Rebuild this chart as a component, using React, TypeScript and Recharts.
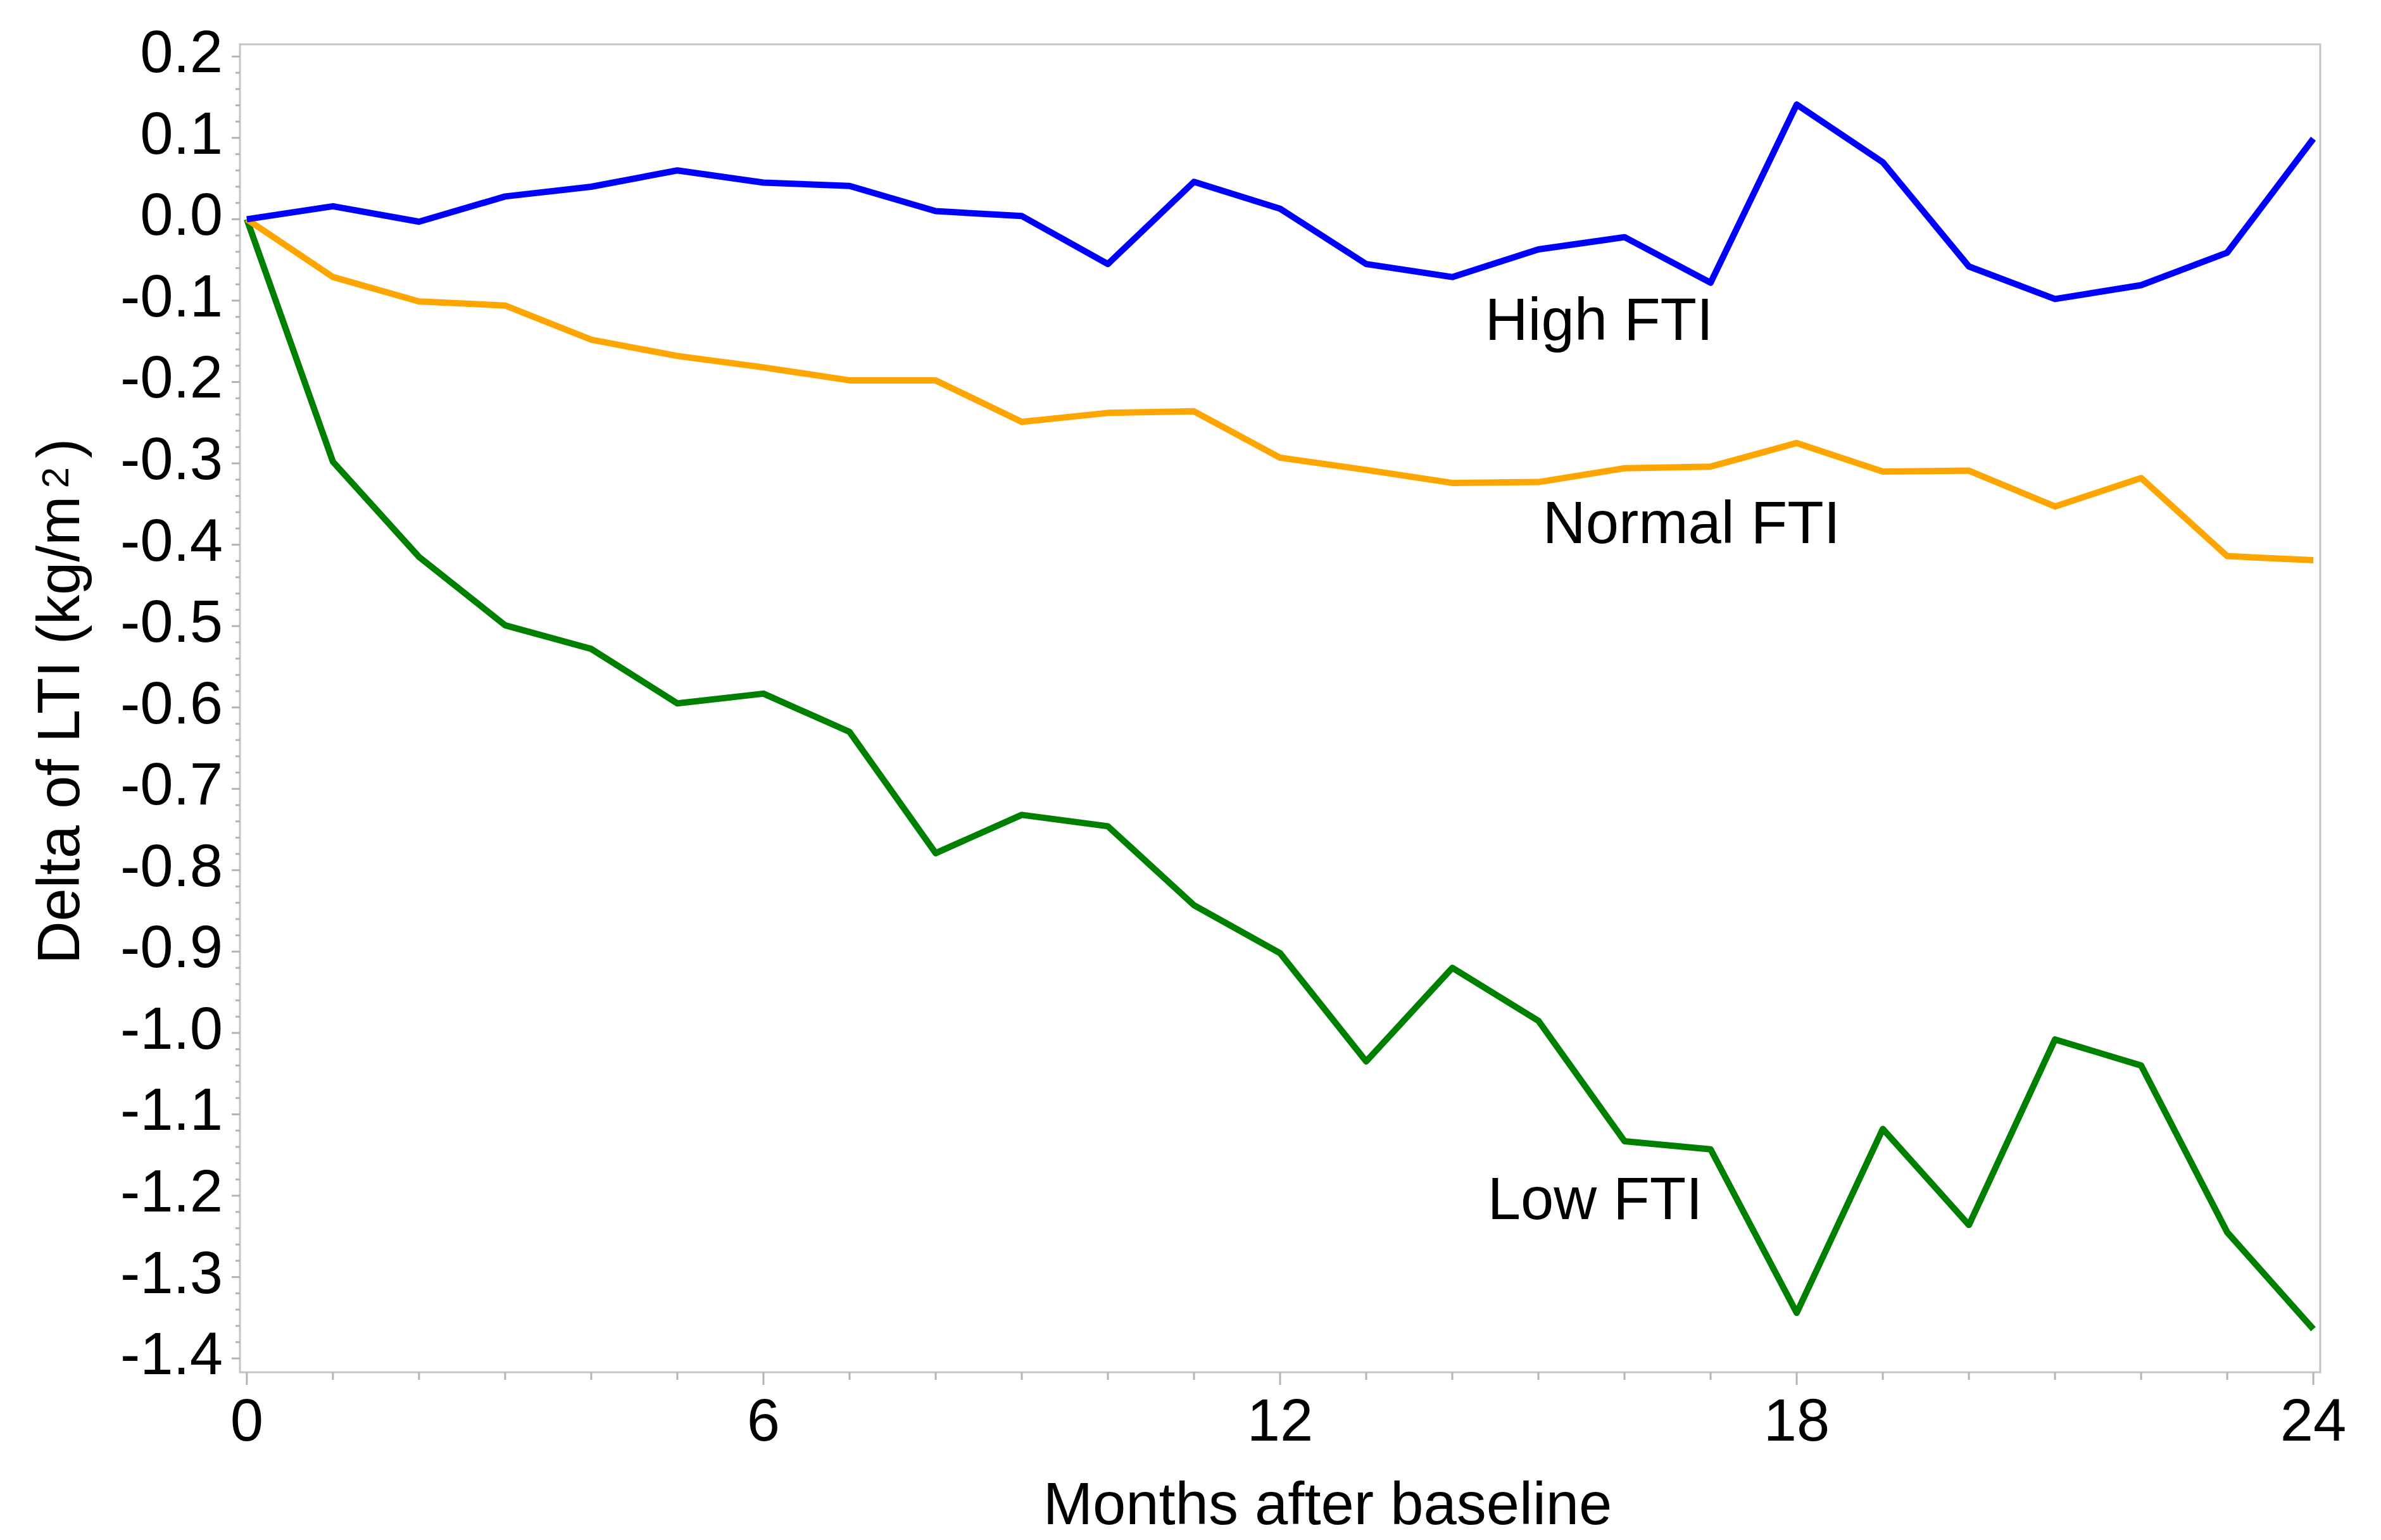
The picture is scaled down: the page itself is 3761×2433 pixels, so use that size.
import React from "react";
import { LineChart, Line, XAxis, YAxis, ReferenceArea, ReferenceDot, Label } from "recharts";

const months = [0, 1, 2, 3, 4, 5, 6, 7, 8, 9, 10, 11, 12, 13, 14, 15, 16, 17, 18, 19, 20, 21, 22, 23, 24];

const highFTI = [0.0, 0.016, -0.003, 0.028, 0.04, 0.06, 0.045, 0.041, 0.01, 0.004, -0.055, 0.046, 0.013, -0.055, -0.071, -0.037, -0.022, -0.078, 0.141, 0.07, -0.058, -0.098, -0.081, -0.041, 0.099];

const normalFTI = [0.0, -0.071, -0.101, -0.106, -0.148, -0.168, -0.182, -0.198, -0.198, -0.249, -0.238, -0.236, -0.293, -0.308, -0.324, -0.323, -0.306, -0.304, -0.275, -0.31, -0.309, -0.353, -0.318, -0.414, -0.419];

const lowFTI = [0.0, -0.298, -0.415, -0.499, -0.528, -0.595, -0.583, -0.63, -0.779, -0.732, -0.746, -0.843, -0.902, -1.035, -0.92, -0.985, -1.133, -1.143, -1.344, -1.118, -1.236, -1.008, -1.04, -1.245, -1.364];

const xMajorTicks = [0, 6, 12, 18, 24];
const xAllTicks = months;

const yMajorTicks = [0.2, 0.1, 0.0, -0.1, -0.2, -0.3, -0.4, -0.5, -0.6, -0.7, -0.8, -0.9, -1.0, -1.1, -1.2, -1.3, -1.4];
const yTickLabels = ["0.2", "0.1", "0.0", "-0.1", "-0.2", "-0.3", "-0.4", "-0.5", "-0.6", "-0.7", "-0.8", "-0.9", "-1.0", "-1.1", "-1.2", "-1.3", "-1.4"];

// minor ticks every 0.02 between majors
const yAllTicks: number[] = [];
yMajorTicks.forEach((t, i) => {
  yAllTicks.push(t);
  if (i < yMajorTicks.length - 1) {
    for (let k = 1; k <= 4; k++) yAllTicks.push(Math.round((t - k * 0.02) * 1000) / 1000);
  }
});

const seriesLabels = [
  { text: "High FTI", month: 14.38, value: -0.148 },
  { text: "Normal FTI", month: 15.05, value: -0.398 },
  { text: "Low FTI", month: 14.41, value: -1.229 },
];

const data = months.map((m, i) => ({ month: m, high: highFTI[i], normal: normalFTI[i], low: lowFTI[i] }));

const FONT = "'Liberation Sans', Arial, Helvetica, sans-serif";
const TICK_COLOR = "#b4b4b4";
const FRAME_COLOR = "#c4c4c4";

const XTick = (props: any) => {
  const { x, y, payload } = props;
  const major = xMajorTicks.includes(payload.value);
  return (
    <g>
      <line x1={x} x2={x} y1={y} y2={y + (major ? 20 : 12)} stroke={TICK_COLOR} strokeWidth={3} />
      {major && (
        <text x={x} y={y + 108} textAnchor="middle" fontSize={94} fontFamily={FONT} fill="#000">
          {String(payload.value)}
        </text>
      )}
    </g>
  );
};

const YTick = (props: any) => {
  const { x, y, payload } = props;
  const v = payload.value;
  const idx = yMajorTicks.findIndex((t) => Math.abs(t - v) < 1e-6);
  const major = idx >= 0;
  return (
    <g>
      <line x1={x} x2={x - (major ? 13 : 7)} y1={y} y2={y} stroke={TICK_COLOR} strokeWidth={3} />
      {major && (
        <text x={x - 27} y={y + 25} textAnchor="end" fontSize={94} fontFamily={FONT} fill="#000">
          {yTickLabels[idx]}
        </text>
      )}
    </g>
  );
};

export default function App() {
  return (
    <div style={{ position: "absolute", left: 0, top: 0, background: "#fff" }}>
      <LineChart width={3761} height={2433} data={data} margin={{ top: 70, right: 96, bottom: 0, left: 0 }}>
        <XAxis
          dataKey="month"
          type="number"
          domain={[-0.08, 24.08]}
          ticks={xAllTicks}
          interval={0}
          allowDataOverflow
          tickSize={0}
          tickMargin={0}
          tickLine={false}
          axisLine={false}
          tick={<XTick />}
          height={265}
        >
          <Label
            content={(p: any) => {
              const vb = p.viewBox;
              return (
                <text x={vb.x + vb.width / 2 + 75} y={vb.y + 240} textAnchor="middle" fontSize={94} fontFamily={FONT} fill="#000">
                  Months after baseline
                </text>
              );
            }}
          />
        </XAxis>
        <YAxis
          type="number"
          domain={[-1.417, 0.215]}
          ticks={yAllTicks}
          interval={0}
          allowDataOverflow
          tickSize={0}
          tickMargin={0}
          tickLine={false}
          axisLine={false}
          tick={<YTick />}
          width={379}
        >
          <Label
            content={(p: any) => {
              const vb = p.viewBox;
              const cx = 125;
              const cy = vb.y + vb.height / 2 - 11;
              return (
                <text x={cx} y={cy} textAnchor="middle" fontSize={94} fontFamily={FONT} fill="#000" transform={`rotate(-90 ${cx} ${cy})`}>
                  Delta of LTI (kg/m
                  <tspan fontSize={60} dx={12} dy={-17}>2</tspan>
                  <tspan fontSize={94} dx={14} dy={17}>)</tspan>
                </text>
              );
            }}
          />
        </YAxis>
        <ReferenceArea x1={-0.08} x2={24.08} y1={-1.417} y2={0.215} fill="none" stroke={FRAME_COLOR} strokeWidth={3} ifOverflow="visible" />
        <Line type="linear" dataKey="low" stroke="#008000" strokeWidth={10} strokeLinejoin="round" dot={false} isAnimationActive={false} />
        <Line type="linear" dataKey="normal" stroke="#FFA500" strokeWidth={10} strokeLinejoin="round" dot={false} isAnimationActive={false} />
        <Line type="linear" dataKey="high" stroke="#0000FF" strokeWidth={10} strokeLinejoin="round" dot={false} isAnimationActive={false} />
        {seriesLabels.map((l) => (
          <ReferenceDot
            key={l.text}
            x={l.month}
            y={l.value}
            r={0}
            ifOverflow="visible"
            shape={(p: any) => (
              <text x={p.cx} y={p.cy} textAnchor="start" fontSize={94} fontFamily={FONT} fill="#000">
                {l.text}
              </text>
            )}
          />
        ))}
      </LineChart>
    </div>
  );
}
